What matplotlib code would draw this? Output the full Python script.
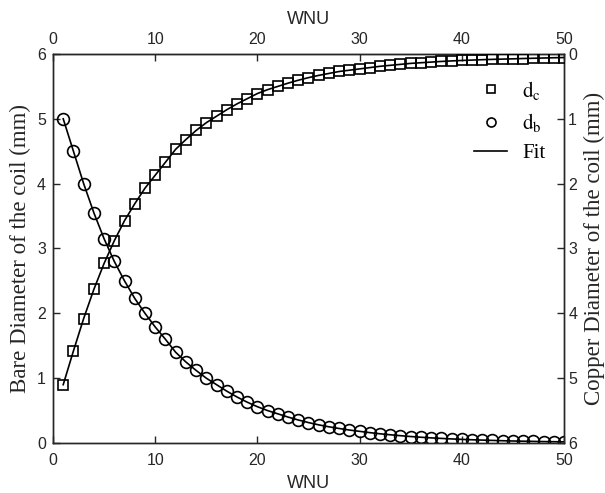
import matplotlib
matplotlib.use("Agg")
import matplotlib.pyplot as plt
from matplotlib.lines import Line2D

# winding number units
wnu = list(range(1, 51))

# bare wire diameter (mm), left axis
d_b = [5.00, 4.50, 4.00, 3.55, 3.15, 2.80, 2.50, 2.23, 2.00, 1.79,
       1.60, 1.40, 1.25, 1.12, 1.00, 0.90, 0.80, 0.71, 0.63, 0.56,
       0.50, 0.45, 0.40, 0.355, 0.315, 0.28, 0.25, 0.224, 0.20, 0.18,
       0.16, 0.142, 0.127, 0.113, 0.10, 0.089, 0.079, 0.071, 0.063, 0.056,
       0.050, 0.045, 0.040, 0.035, 0.031, 0.028, 0.025, 0.022, 0.020, 0.018]

# copper diameter (mm), right axis (inverted)
d_c = [5.10, 4.58, 4.08, 3.63, 3.23, 2.88, 2.57, 2.31, 2.07, 1.87,
       1.67, 1.47, 1.32, 1.18, 1.06, 0.96, 0.86, 0.77, 0.69, 0.61,
       0.55, 0.50, 0.45, 0.405, 0.365, 0.33, 0.30, 0.27, 0.25, 0.23,
       0.21, 0.19, 0.175, 0.16, 0.145, 0.135, 0.125, 0.115, 0.107, 0.10,
       0.094, 0.088, 0.083, 0.079, 0.075, 0.070, 0.066, 0.062, 0.058, 0.055]

plt.rcParams["font.family"] = "Liberation Sans"
plt.rcParams["mathtext.fontset"] = "stix"

serif = "Liberation Serif"
ink = "#262626"
tick_size = 11.5

fig = plt.figure(figsize=(6.05, 4.93), dpi=100)
ax = fig.add_axes([0.0876, 0.1014, 0.8446, 0.7891])

ax.plot(wnu, d_b, "-", color="black", lw=1.2, zorder=2)
ax.plot(wnu, d_b, "o", mfc="none", mec="black", mew=1.2, ms=8.5, zorder=3)
ax.set_xlim(0, 50)
ax.set_ylim(0, 6)
ax.set_xticks(range(0, 51, 10))
ax.set_yticks(range(0, 7))
ax.tick_params(axis="x", direction="in", length=5, width=1, labelsize=tick_size,
               colors=ink, pad=7)
ax.tick_params(axis="y", direction="in", length=5, width=1, labelsize=tick_size,
               colors=ink, pad=5)
ax.set_xlabel("WNU", fontsize=13, color=ink, labelpad=5)
ax.set_ylabel("Bare Diameter of the coil (mm)", fontfamily=serif,
              fontsize=16.5, color=ink, labelpad=4)

ax2 = ax.twinx()
ax2.plot(wnu, d_c, "-", color="black", lw=1.2, zorder=2)
ax2.plot(wnu, d_c, "s", mfc="none", mec="black", mew=1.2, ms=7, zorder=3)
ax2.set_ylim(6, 0)
ax2.set_yticks(range(0, 7))
ax2.tick_params(direction="in", length=5, width=1, labelsize=tick_size,
                colors=ink, pad=3)
ax2.set_ylabel("Copper Diameter of the coil (mm)", fontfamily=serif,
               fontsize=16.5, color=ink, labelpad=5)

top = ax.secondary_xaxis("top")
top.set_xticks(range(0, 51, 10))
top.tick_params(direction="in", length=5, width=1, labelsize=tick_size,
                colors=ink, pad=5)
top.set_xlabel("WNU", fontsize=13, color=ink, labelpad=6)

for a in (ax, ax2):
    for s in a.spines.values():
        s.set_color(ink)
        s.set_linewidth(1.0)

handles = [
    Line2D([], [], ls="none", marker="s", mfc="none", mec="black", mew=1.2, ms=6),
    Line2D([], [], ls="none", marker="o", mfc="none", mec="black", mew=1.2, ms=6.5),
    Line2D([], [], color="black", lw=1.2),
]
labels = [r"$\mathrm{d_c}$", r"$\mathrm{d_b}$", "Fit"]
ax2.legend(handles, labels, loc="upper right", bbox_to_anchor=(1.0, 0.985),
           frameon=False, prop={"family": serif, "size": 15},
           handlelength=1.6, handletextpad=0.7, labelspacing=0.45)

fig.savefig("out.png", dpi=100)
